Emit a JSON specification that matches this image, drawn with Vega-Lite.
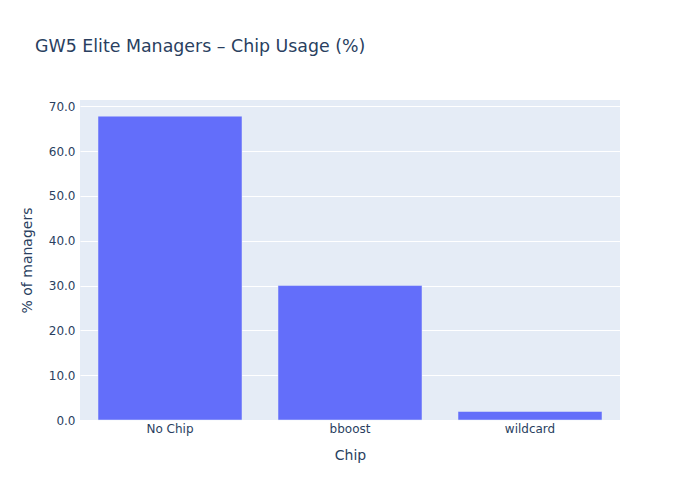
{
  "$schema": "https://vega.github.io/schema/vega-lite/v6.json",
  "width": 540,
  "height": 320,
  "autosize": {"type": "none"},
  "padding": {"left": 80, "top": 100, "right": 80, "bottom": 80},
  "background": "white",
  "title": {
    "text": "GW5 Elite Managers – Chip Usage (%)",
    "anchor": "start",
    "frame": "group",
    "dx": -45,
    "offset": 45,
    "font": "DejaVu Sans",
    "fontSize": 17.4,
    "fontWeight": "normal",
    "color": "#2a3f5f"
  },
  "config": {
    "view": {"fill": "#E5ECF6", "stroke": null},
    "axis": {
      "labelFont": "DejaVu Sans",
      "titleFont": "DejaVu Sans",
      "labelColor": "#2a3f5f",
      "titleColor": "#2a3f5f",
      "labelFontSize": 12,
      "titleFontSize": 14,
      "titleFontWeight": "normal",
      "domain": false,
      "ticks": false
    }
  },
  "data": {
    "values": [
      {"chip": "No Chip", "pct": 67.8},
      {"chip": "bboost", "pct": 30.0},
      {"chip": "wildcard", "pct": 1.9}
    ]
  },
  "mark": {"type": "bar", "color": "#636EFA", "stroke": "#E5ECF6", "strokeWidth": 0.5},
  "encoding": {
    "x": {
      "field": "chip",
      "type": "nominal",
      "sort": null,
      "scale": {"paddingInner": 0.2, "paddingOuter": 0.1},
      "axis": {"title": "Chip", "labelAngle": 0, "labelPadding": 3, "titlePadding": 14, "grid": false}
    },
    "y": {
      "field": "pct",
      "type": "quantitative",
      "scale": {"domain": [0, 71.4], "nice": false},
      "axis": {
        "title": "% of managers",
        "values": [0, 10, 20, 30, 40, 50, 60, 70],
        "format": ".1f",
        "gridColor": "white",
        "gridWidth": 1,
        "labelPadding": 5,
        "titlePadding": 14
      }
    }
  }
}
